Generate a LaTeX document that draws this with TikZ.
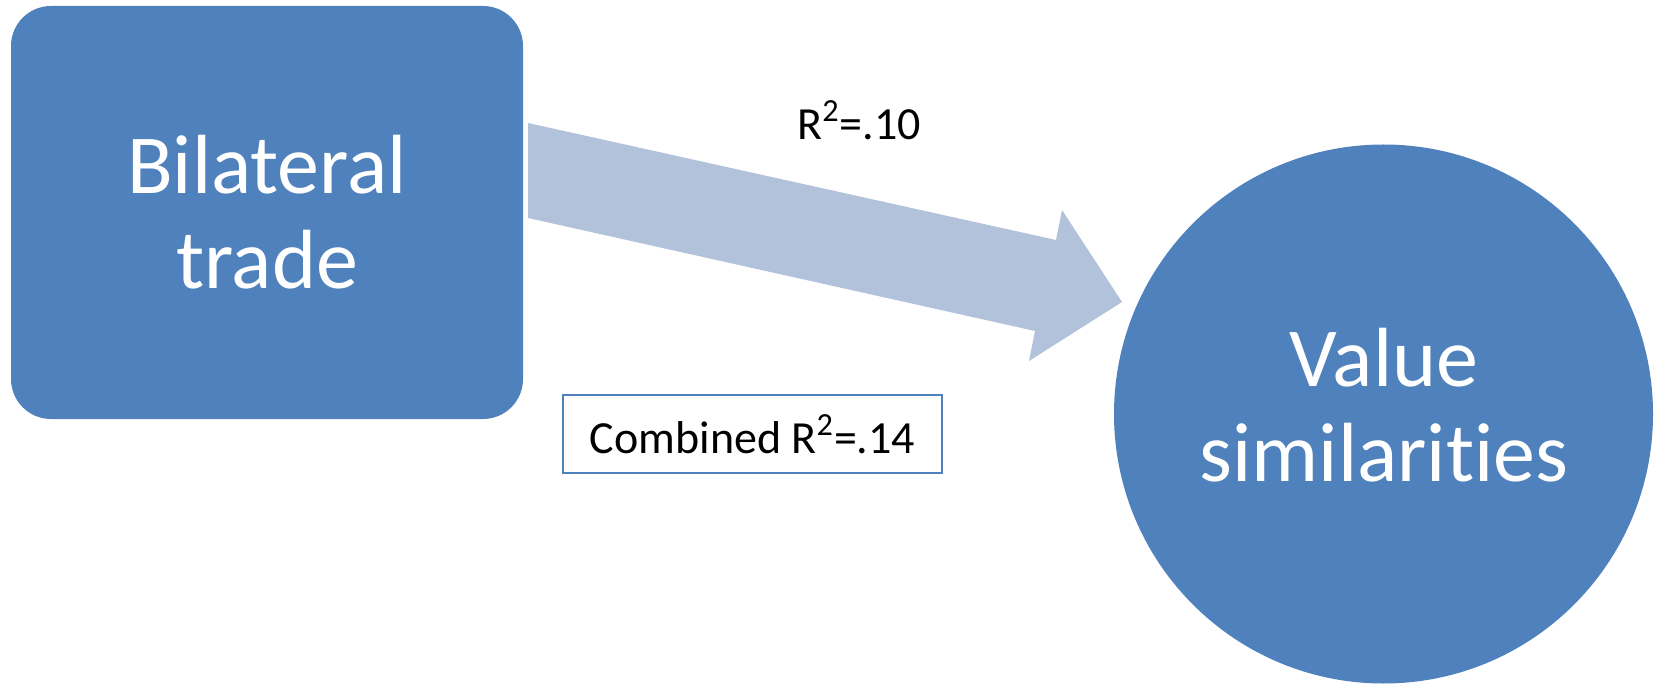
\documentclass[tikz,border=0pt]{standalone}
\usepackage{fontspec}
\setmainfont[Ligatures=NoCommon]{Carlito}
\definecolor{officeblue}{HTML}{4F81BD}
\definecolor{lightarrow}{HTML}{B3C2DB}
\begin{document}
\begin{tikzpicture}[x=0.5pt,y=-0.5pt,
  bigtext/.style={text=white,font=\fontsize{42pt}{47.4pt}\selectfont,align=center},
  smalltext/.style={text=black,font=\fontsize{23pt}{27pt}\selectfont},
  srcbox/.style={fill=officeblue,draw=none,rounded corners=20pt,minimum width=256pt,minimum height=206.5pt,inner sep=0pt},
  tgtcircle/.style={circle,fill=officeblue,draw=none,minimum size=269.5pt,inner sep=0pt},
  labelbox/.style={draw=officeblue,line width=0.7pt,fill=white,minimum width=189.5pt,minimum height=39pt,inner sep=0pt},
  blockarrow/.style={fill=lightarrow,draw=none}]
\useasboundingbox (0,0) rectangle (1655,684);
% nodes
\node[srcbox] (bt) at (267,212.5) {};
\node[bigtext] (btlabel) at (267,212.5) {Bilateral\\trade};
\node[tgtcircle] (vs) at (1383.5,414) {};
\node[bigtext] (vslabel) at (1384,405) {Value\\similarities};
% block arrow from bt to vs
\coordinate (a1) at (528,123);
\coordinate (a2) at (1056,240);
\coordinate (a3) at (1062,210);
\coordinate (a4) at (1122,302);
\coordinate (a5) at (1029,361);
\coordinate (a6) at (1035,331);
\coordinate (a7) at (528,218);
\fill[blockarrow] (a1) -- (a2) -- (a3) -- (a4) -- (a5) -- (a6) -- (a7) -- cycle;
% labels
\node[smalltext,anchor=base] (r2) at (859,140) {R\textsuperscript{2}=.10};
\node[labelbox,smalltext] (comb) at (752.5,434) {Combined R\textsuperscript{2}=.14};
\end{tikzpicture}
\end{document}
